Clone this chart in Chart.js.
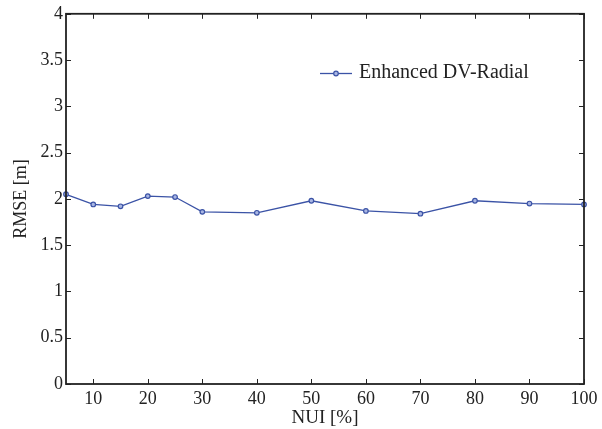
<!DOCTYPE html>
<html>
<head>
<meta charset="utf-8">
<script src="https://cdn.jsdelivr.net/npm/chart.js@4"></script>
<style>
  html, body { margin: 0; padding: 0; background: #fff; }
  #wrap { width: 602px; height: 429px; }
</style>
</head>
<body>
<div id="wrap"><canvas id="chart" width="602" height="429"></canvas></div>
<script>
// Data
const nuiValues = [5, 10, 15, 20, 25, 30, 40, 50, 60, 70, 80, 90, 100];
const rmseValues = [2.05, 1.94, 1.92, 2.03, 2.02, 1.86, 1.85, 1.98, 1.87, 1.84, 1.98, 1.95, 1.94];
const xTicks = [10, 20, 30, 40, 50, 60, 70, 80, 90, 100];
const yTicks = [0, 0.5, 1, 1.5, 2, 2.5, 3, 3.5, 4];

const serif = '"Liberation Serif", "DejaVu Serif", serif';
const lineColor = '#3b53a6';

// Frame around the plot plus inward ticks on all four sides
const framePlugin = {
  id: 'frame',
  afterDraw(chart) {
    const { ctx, chartArea: a, scales } = chart;
    ctx.save();
    ctx.strokeStyle = '#222';
    ctx.lineWidth = 1;
    const len = 5;
    ctx.beginPath();
    xTicks.forEach(v => {
      const px = Math.round(scales.x.getPixelForValue(v)) + 0.5;
      ctx.moveTo(px, a.bottom); ctx.lineTo(px, a.bottom - len);
      ctx.moveTo(px, a.top); ctx.lineTo(px, a.top + len);
    });
    yTicks.forEach(v => {
      const py = Math.round(scales.y.getPixelForValue(v)) + 0.5;
      ctx.moveTo(a.left, py); ctx.lineTo(a.left + len, py);
      ctx.moveTo(a.right, py); ctx.lineTo(a.right - len, py);
    });
    ctx.stroke();
    ctx.lineWidth = 1.8;
    ctx.strokeRect(a.left, a.top, a.right - a.left, a.bottom - a.top);
    ctx.restore();
  }
};

const ctx = document.getElementById('chart').getContext('2d');
new Chart(ctx, {
  type: 'line',
  data: {
    datasets: [{
      label: 'Enhanced DV-Radial',
      data: nuiValues.map((x, i) => ({ x: x, y: rmseValues[i] })),
      borderColor: lineColor,
      backgroundColor: '#8fa0d8',
      borderWidth: 1.3,
      pointRadius: 2.3,
      pointBorderWidth: 1.2,
      pointBorderColor: lineColor,
      pointBackgroundColor: '#a9b6e3',
      tension: 0,
      clip: false
    }]
  },
  options: {
    responsive: false,
    animation: false,
    layout: { padding: { top: 11, right: 18, left: 0, bottom: 0 } },
    plugins: {
      legend: { display: false },
      tooltip: { enabled: false }
    },
    scales: {
      x: {
        type: 'linear',
        min: 5,
        max: 100,
        afterBuildTicks: s => { s.ticks = xTicks.map(v => ({ value: v })); },
        afterFit: s => { s.height = 45; },
        grid: { display: false, drawTicks: false },
        border: { display: false },
        ticks: { color: '#222', font: { family: serif, size: 18 }, padding: 4, maxRotation: 0 },
        title: {
          display: true,
          text: 'NUI [%]',
          color: '#222',
          font: { family: serif, size: 19 },
          padding: { top: 0, bottom: 0 }
        }
      },
      y: {
        min: 0,
        max: 4,
        afterBuildTicks: s => { s.ticks = yTicks.map(v => ({ value: v })); },
        afterFit: s => { s.width = 66; },
        grid: { display: false, drawTicks: false },
        border: { display: false },
        ticks: {
          color: '#222',
          font: { family: serif, size: 18 },
          padding: 3,
          callback: v => String(v)
        },
        title: {
          display: true,
          text: 'RMSE [m]',
          color: '#222',
          font: { family: serif, size: 18 },
          padding: { top: 10, bottom: 0 }
        }
      }
    }
  },
  plugins: [framePlugin, {
    id: 'insideLegend',
    afterDraw(chart) {
      const c = chart.ctx;
      c.save();
      c.strokeStyle = lineColor;
      c.lineWidth = 1.3;
      c.beginPath();
      c.moveTo(320, 73.5); c.lineTo(352, 73.5);
      c.stroke();
      c.beginPath();
      c.arc(336, 73.5, 2.3, 0, Math.PI * 2);
      c.fillStyle = '#a9b6e3';
      c.fill();
      c.lineWidth = 1.2;
      c.stroke();
      c.fillStyle = '#222';
      c.font = '20px ' + serif;
      c.textBaseline = 'middle';
      c.fillText(chart.data.datasets[0].label, 359, 73);
      c.restore();
    }
  }]
});
</script>
</body>
</html>
